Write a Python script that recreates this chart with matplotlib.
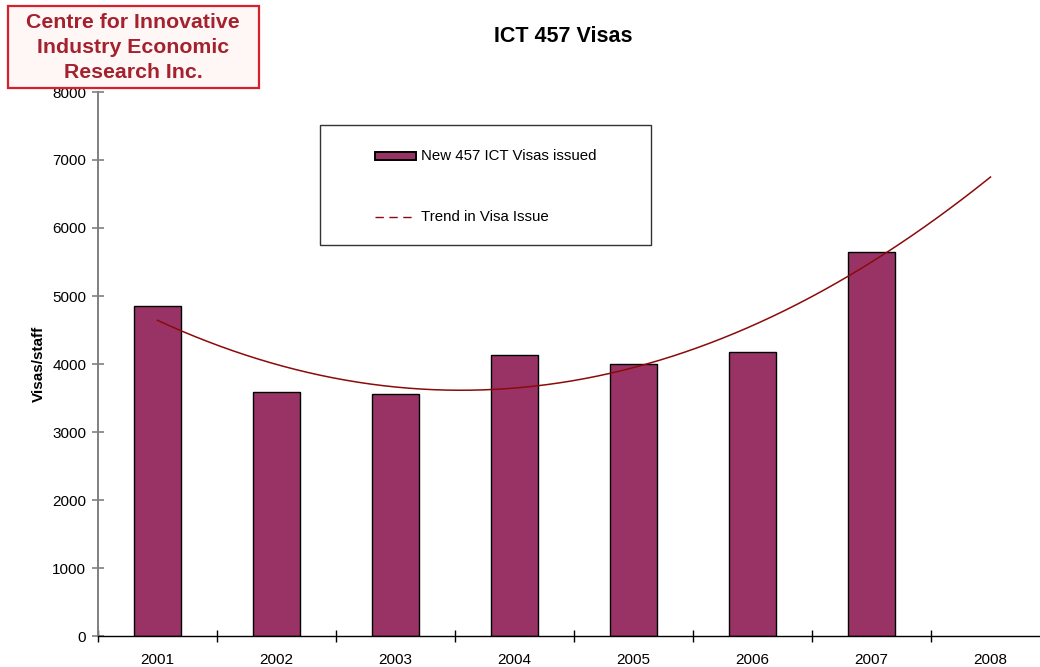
import numpy as np
import matplotlib
matplotlib.use("Agg")
import matplotlib.pyplot as plt
from matplotlib.patches import Rectangle
from matplotlib.lines import Line2D

plt.rcParams['font.family'] = ['Liberation Sans', 'DejaVu Sans']

# Annual counts of new 457 ICT visas
years = ['2001', '2002', '2003', '2004', '2005', '2006', '2007', '2008']
visas = [4853, 3588, 3559, 4132, 4000, 4176, 5647]
yticks = [0, 1000, 2000, 3000, 4000, 5000, 6000, 7000, 8000]
series_labels = ['New 457 ICT Visas issued', 'Trend in Visa Issue']

bar_color = '#993366'
trend_color = '#8b0a0a'

W, H = 1040, 667


def fx(px):
    return px / W


def fy(py):
    return 1 - py / H


fig = plt.figure(figsize=(W / 100, H / 100), dpi=100)
ax = fig.add_axes([fx(98), 31 / H, 952 / W, 544 / H])

xpos = np.arange(len(visas))
ax.bar(xpos, visas, width=0.40, color=bar_color, edgecolor='black', linewidth=1.0, zorder=2)

# Second-order polynomial trend, projected one period ahead
coef = np.polyfit(xpos, visas, 2)
xs = np.linspace(0, len(years) - 1, 200)
ax.plot(xs, np.polyval(coef, xs), color=trend_color, linewidth=1.1, zorder=3)

ax.set_xlim(-0.5, len(years) - 0.5)
ax.set_ylim(0, 8000)

# Category boundaries carry the tick marks; labels sit at the centres
ax.set_xticks(np.arange(-0.5, len(years), 1.0))
ax.set_xticklabels([])
ax.set_xticks(np.arange(len(years)), minor=True)
ax.set_xticklabels(years, minor=True, fontsize=11)
ax.tick_params(axis='x', which='major', direction='inout', length=9, width=1, color='black')
ax.tick_params(axis='x', which='minor', length=0, pad=12)

ax.set_yticks(yticks)
ax.set_yticklabels([str(v) for v in yticks], fontsize=11)
ax.tick_params(axis='y', direction='inout', length=9, width=1.2, color='#808080', pad=4)

for side in ('top', 'right'):
    ax.spines[side].set_visible(False)
ax.spines['left'].set_color('#808080')
ax.spines['left'].set_linewidth(1.4)
ax.spines['bottom'].set_color('black')
ax.spines['bottom'].set_linewidth(1.0)

ax.set_ylabel('Visas/staff', fontsize=11, fontweight='bold', labelpad=4.5)

fig.text(fx(563), fy(37), 'ICT 457 Visas', fontsize=15.5, fontweight='bold',
         ha='center', va='center')

# Legend box
fig.add_artist(Rectangle((fx(320), fy(245)), 331 / W, 120 / H, transform=fig.transFigure,
                         facecolor='white', edgecolor='#333333', linewidth=1.0, zorder=4))
fig.add_artist(Rectangle((fx(375), fy(160)), 41 / W, 8 / H, transform=fig.transFigure,
                         facecolor=bar_color, edgecolor='black', linewidth=1.4, zorder=5))
fig.add_artist(Line2D([fx(375), fx(416)], [fy(217), fy(217)], transform=fig.transFigure,
                      color=trend_color, linewidth=1.0, linestyle=(0, (6, 4)), zorder=5))
fig.text(fx(421), fy(156), series_labels[0], fontsize=10.8, ha='left', va='center', zorder=5)
fig.text(fx(421), fy(217), series_labels[1], fontsize=10.8, ha='left', va='center', zorder=5)

# Organisation badge in the top-left corner
badge = Rectangle((fx(8), fy(88)), 251 / W, 82 / H, transform=fig.transFigure,
                  facecolor='#fff6f6', edgecolor='#d8202c', linewidth=1.6, zorder=5)
fig.add_artist(badge)
for i, line in enumerate(['Centre for Innovative', 'Industry Economic', 'Research Inc.']):
    fig.text(fx(133), fy(22 + 25.5 * i), line, fontsize=15.3, fontweight='bold',
             color='#a3222e', ha='center', va='center', zorder=6)

fig.savefig('out.png', dpi=100)
